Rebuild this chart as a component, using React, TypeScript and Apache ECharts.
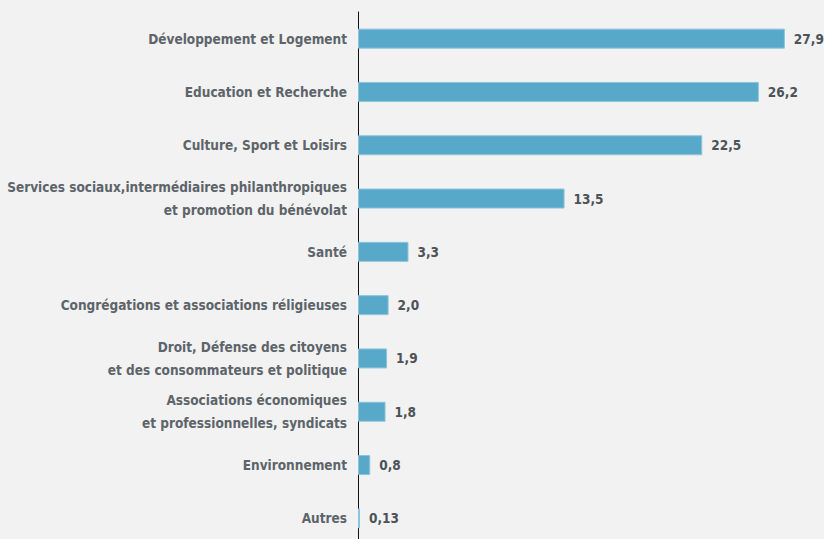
import React, { useEffect, useRef } from "react";
import * as echarts from "echarts";

const categories = [
  "Développement et Logement",
  "Education et Recherche",
  "Culture, Sport et Loisirs",
  "Services sociaux,intermédiaires philanthropiques\net promotion du bénévolat",
  "Santé",
  "Congrégations et associations réligieuses",
  "Droit, Défense des citoyens\net des consommateurs et politique",
  "Associations économiques\net professionnelles, syndicats",
  "Environnement",
  "Autres",
];
const values = [27.9, 26.2, 22.5, 13.5, 3.3, 2.0, 1.9, 1.8, 0.8, 0.13];
const valueLabels = ["27,9", "26,2", "22,5", "13,5", "3,3", "2,0", "1,9", "1,8", "0,8", "0,13"];

const FONT = "'Liberation Sans Narrow', 'DejaVu Sans Condensed', sans-serif";

export default function App() {
  const ref = useRef<HTMLDivElement>(null);
  useEffect(() => {
    const chart = echarts.init(ref.current!, null, { renderer: "svg" });
    chart.setOption({
      animation: false,
      backgroundColor: "#f2f2f2",
      grid: {
        left: 358,
        top: 12,
        width: 459,
        height: 533,
        containLabel: false,
        outerBoundsMode: "none",
      },
      xAxis: {
        type: "value",
        min: 0,
        max: 30,
        show: false,
      },
      yAxis: {
        type: "category",
        inverse: true,
        data: categories,
        axisLine: { show: true, lineStyle: { color: "#111", width: 1 } },
        axisTick: { show: false },
        splitLine: { show: false },
        axisLabel: {
          margin: 11,
          color: "#5d646a",
          fontFamily: FONT,
          fontWeight: "bold",
          fontSize: 13.5,
          lineHeight: 23,
          align: "right",
        },
      },
      series: [
        {
          type: "bar",
          data: values,
          barWidth: 20,
          itemStyle: { color: "#58a8c9", borderColor: "#8cc4db", borderWidth: 1 },
          label: {
            show: true,
            position: "right",
            distance: 9,
            color: "#4d5358",
            fontFamily: FONT,
            fontWeight: "bold",
            fontSize: 13.5,
            formatter: (p: any) => valueLabels[p.dataIndex],
          },
        },
      ],
    });
    return () => chart.dispose();
  }, []);
  return (
    <div
      ref={ref}
      style={{ width: 824, height: 539, position: "absolute", left: 0, top: 0 }}
    />
  );
}
